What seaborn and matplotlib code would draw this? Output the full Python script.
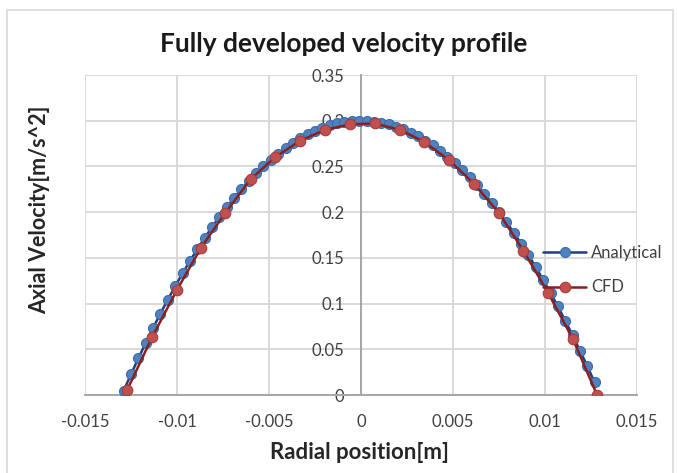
import matplotlib
matplotlib.use("Agg")
import matplotlib.pyplot as plt
import seaborn as sns
import pandas as pd
from matplotlib.patches import Rectangle

# ---- data ----
analytical_r = [-0.0129, -0.0125, -0.0121, -0.0117, -0.0113, -0.0109, -0.0105, -0.0101,
                -0.0097, -0.0093, -0.0089, -0.0085, -0.0081, -0.0077, -0.0073, -0.0069,
                -0.0065, -0.0061, -0.0057, -0.0053, -0.0049, -0.0045, -0.0041, -0.0037,
                -0.0033, -0.0029, -0.0025, -0.0021, -0.0017, -0.0013, -0.0009, -0.0005,
                -0.0001, 0.0003, 0.0007, 0.0011, 0.0015, 0.0019, 0.0023, 0.0027,
                0.0031, 0.0035, 0.0039, 0.0043, 0.0047, 0.0051, 0.0055, 0.0059,
                0.0063, 0.0067, 0.0071, 0.0075, 0.0079, 0.0083, 0.0087, 0.0091,
                0.0095, 0.0099, 0.0103, 0.0107, 0.0111, 0.0115, 0.0119, 0.0123, 0.0127]
analytical_u = [0.0046, 0.0226, 0.0401, 0.0570, 0.0733, 0.0891, 0.1043, 0.1189,
                0.1330, 0.1465, 0.1594, 0.1717, 0.1835, 0.1948, 0.2054, 0.2155,
                0.2250, 0.2339, 0.2423, 0.2501, 0.2574, 0.2641, 0.2702, 0.2757,
                0.2807, 0.2851, 0.2889, 0.2922, 0.2949, 0.2970, 0.2986, 0.2996,
                0.3000, 0.2998, 0.2991, 0.2979, 0.2960, 0.2936, 0.2906, 0.2871,
                0.2829, 0.2783, 0.2730, 0.2672, 0.2608, 0.2538, 0.2463, 0.2382,
                0.2295, 0.2203, 0.2105, 0.2001, 0.1892, 0.1777, 0.1656, 0.1530,
                0.1398, 0.1260, 0.1117, 0.0968, 0.0813, 0.0652, 0.0486, 0.0314, 0.0137]

cfd_r = [-0.01272, -0.01136, -0.01000, -0.00870, -0.00738, -0.00600, -0.00467, -0.00332,
         -0.00196, -0.00060, 0.00074, 0.00212, 0.00342, 0.00478, 0.00614, 0.00750,
         0.00882, 0.01016, 0.01152, 0.01283]
cfd_u = [0.005, 0.063, 0.115, 0.161, 0.199, 0.236, 0.260, 0.278,
         0.290, 0.296, 0.297, 0.290, 0.277, 0.257, 0.231, 0.199,
         0.158, 0.112, 0.061, 0.000]

x_ticks = [-0.015, -0.01, -0.005, 0, 0.005, 0.01, 0.015]
x_tick_labels = ["-0.015", "-0.01", "-0.005", "0", "0.005", "0.01", "0.015"]
y_ticks = [0, 0.05, 0.1, 0.15, 0.2, 0.25, 0.3, 0.35]
y_tick_labels = ["0", "0.05", "0.1", "0.15", "0.2", "0.25", "0.3", "0.35"]

title = "Fully developed velocity profile"
x_label = "Radial position[m]"
y_label = "Axial Velocity[m/s^2]"

# ---- style ----
sns.set_theme(style="white")
plt.rcParams['font.family'] = ['Lato', 'DejaVu Sans']

W, H = 677, 473
fig = plt.figure(figsize=(W / 100, H / 100), dpi=100)
ax = fig.add_axes([85 / W, 1 - 395 / H, (637 - 85) / W, (395 - 75) / H])

# chart border
fig.patches.append(Rectangle((7 / W, -0.05), (673 - 7) / W, 1 - 10 / H + 0.05,
                             transform=fig.transFigure, fill=False,
                             edgecolor="#d9d9d9", linewidth=1.2, zorder=0))

df_a = pd.DataFrame({"r": analytical_r, "u": analytical_u})
df_c = pd.DataFrame({"r": cfd_r, "u": cfd_u})

sns.lineplot(data=df_a, x="r", y="u", sort=False, ax=ax, color="#1f3f7a",
             linewidth=1.8, marker="o", markersize=7.2,
             markerfacecolor="#4f81bd", markeredgecolor="#3a6cae",
             markeredgewidth=0.8, label="Analytical", zorder=3)
sns.lineplot(data=df_c, x="r", y="u", sort=False, ax=ax, color="#8b1f1f",
             linewidth=1.8, marker="o", markersize=7.6,
             markerfacecolor="#c0504d", markeredgecolor="#a83c3a",
             markeredgewidth=0.8, label="CFD", zorder=4)

ax.set_xlim(-0.015, 0.015)
ax.set_ylim(0, 0.35)
ax.set_xticks(x_ticks)
ax.set_xticklabels(x_tick_labels)
ax.set_yticks(y_ticks)
ax.set_yticklabels(y_tick_labels)
ax.grid(True, color="#d9d9d9", linewidth=1.4)
ax.set_axisbelow(True)

for s in ["top", "right"]:
    ax.spines[s].set_visible(False)
ax.spines["left"].set_position(("data", 0))
ax.spines["left"].set_color("#a6a6a6")
ax.spines["left"].set_linewidth(1.4)
ax.spines["bottom"].set_color("#a6a6a6")
ax.spines["bottom"].set_linewidth(1.4)
ax.tick_params(axis="both", length=0, labelsize=12, colors="#404040")
ax.tick_params(axis="y", pad=12)
ax.tick_params(axis="x", pad=14)
for t in ax.get_yticklabels():
    t.set_zorder(5)

ax.set_xlabel("")
ax.set_ylabel("")
fig.text(360 / W, 1 - 452 / H, x_label, ha="center", va="center",
         fontsize=16, fontweight="bold", color="#262626")
fig.text(40 / W, 1 - 210 / H, y_label, ha="center", va="center", rotation=90,
         fontsize=15.5, fontweight="bold", color="#262626")
fig.text(344 / W, 1 - 44 / H, title, ha="center", va="center",
         fontsize=19, fontweight="bold", color="#1a1a1a")

leg = ax.legend(loc="upper left", bbox_to_anchor=(543 / W, 1 - 245 / H),
                bbox_transform=fig.transFigure, frameon=False,
                fontsize=12, handlelength=2.6, handletextpad=0.3,
                labelspacing=1.1, borderpad=0, borderaxespad=0)
for t in leg.get_texts():
    t.set_color("#404040")

fig.savefig("out.png", dpi=100)
